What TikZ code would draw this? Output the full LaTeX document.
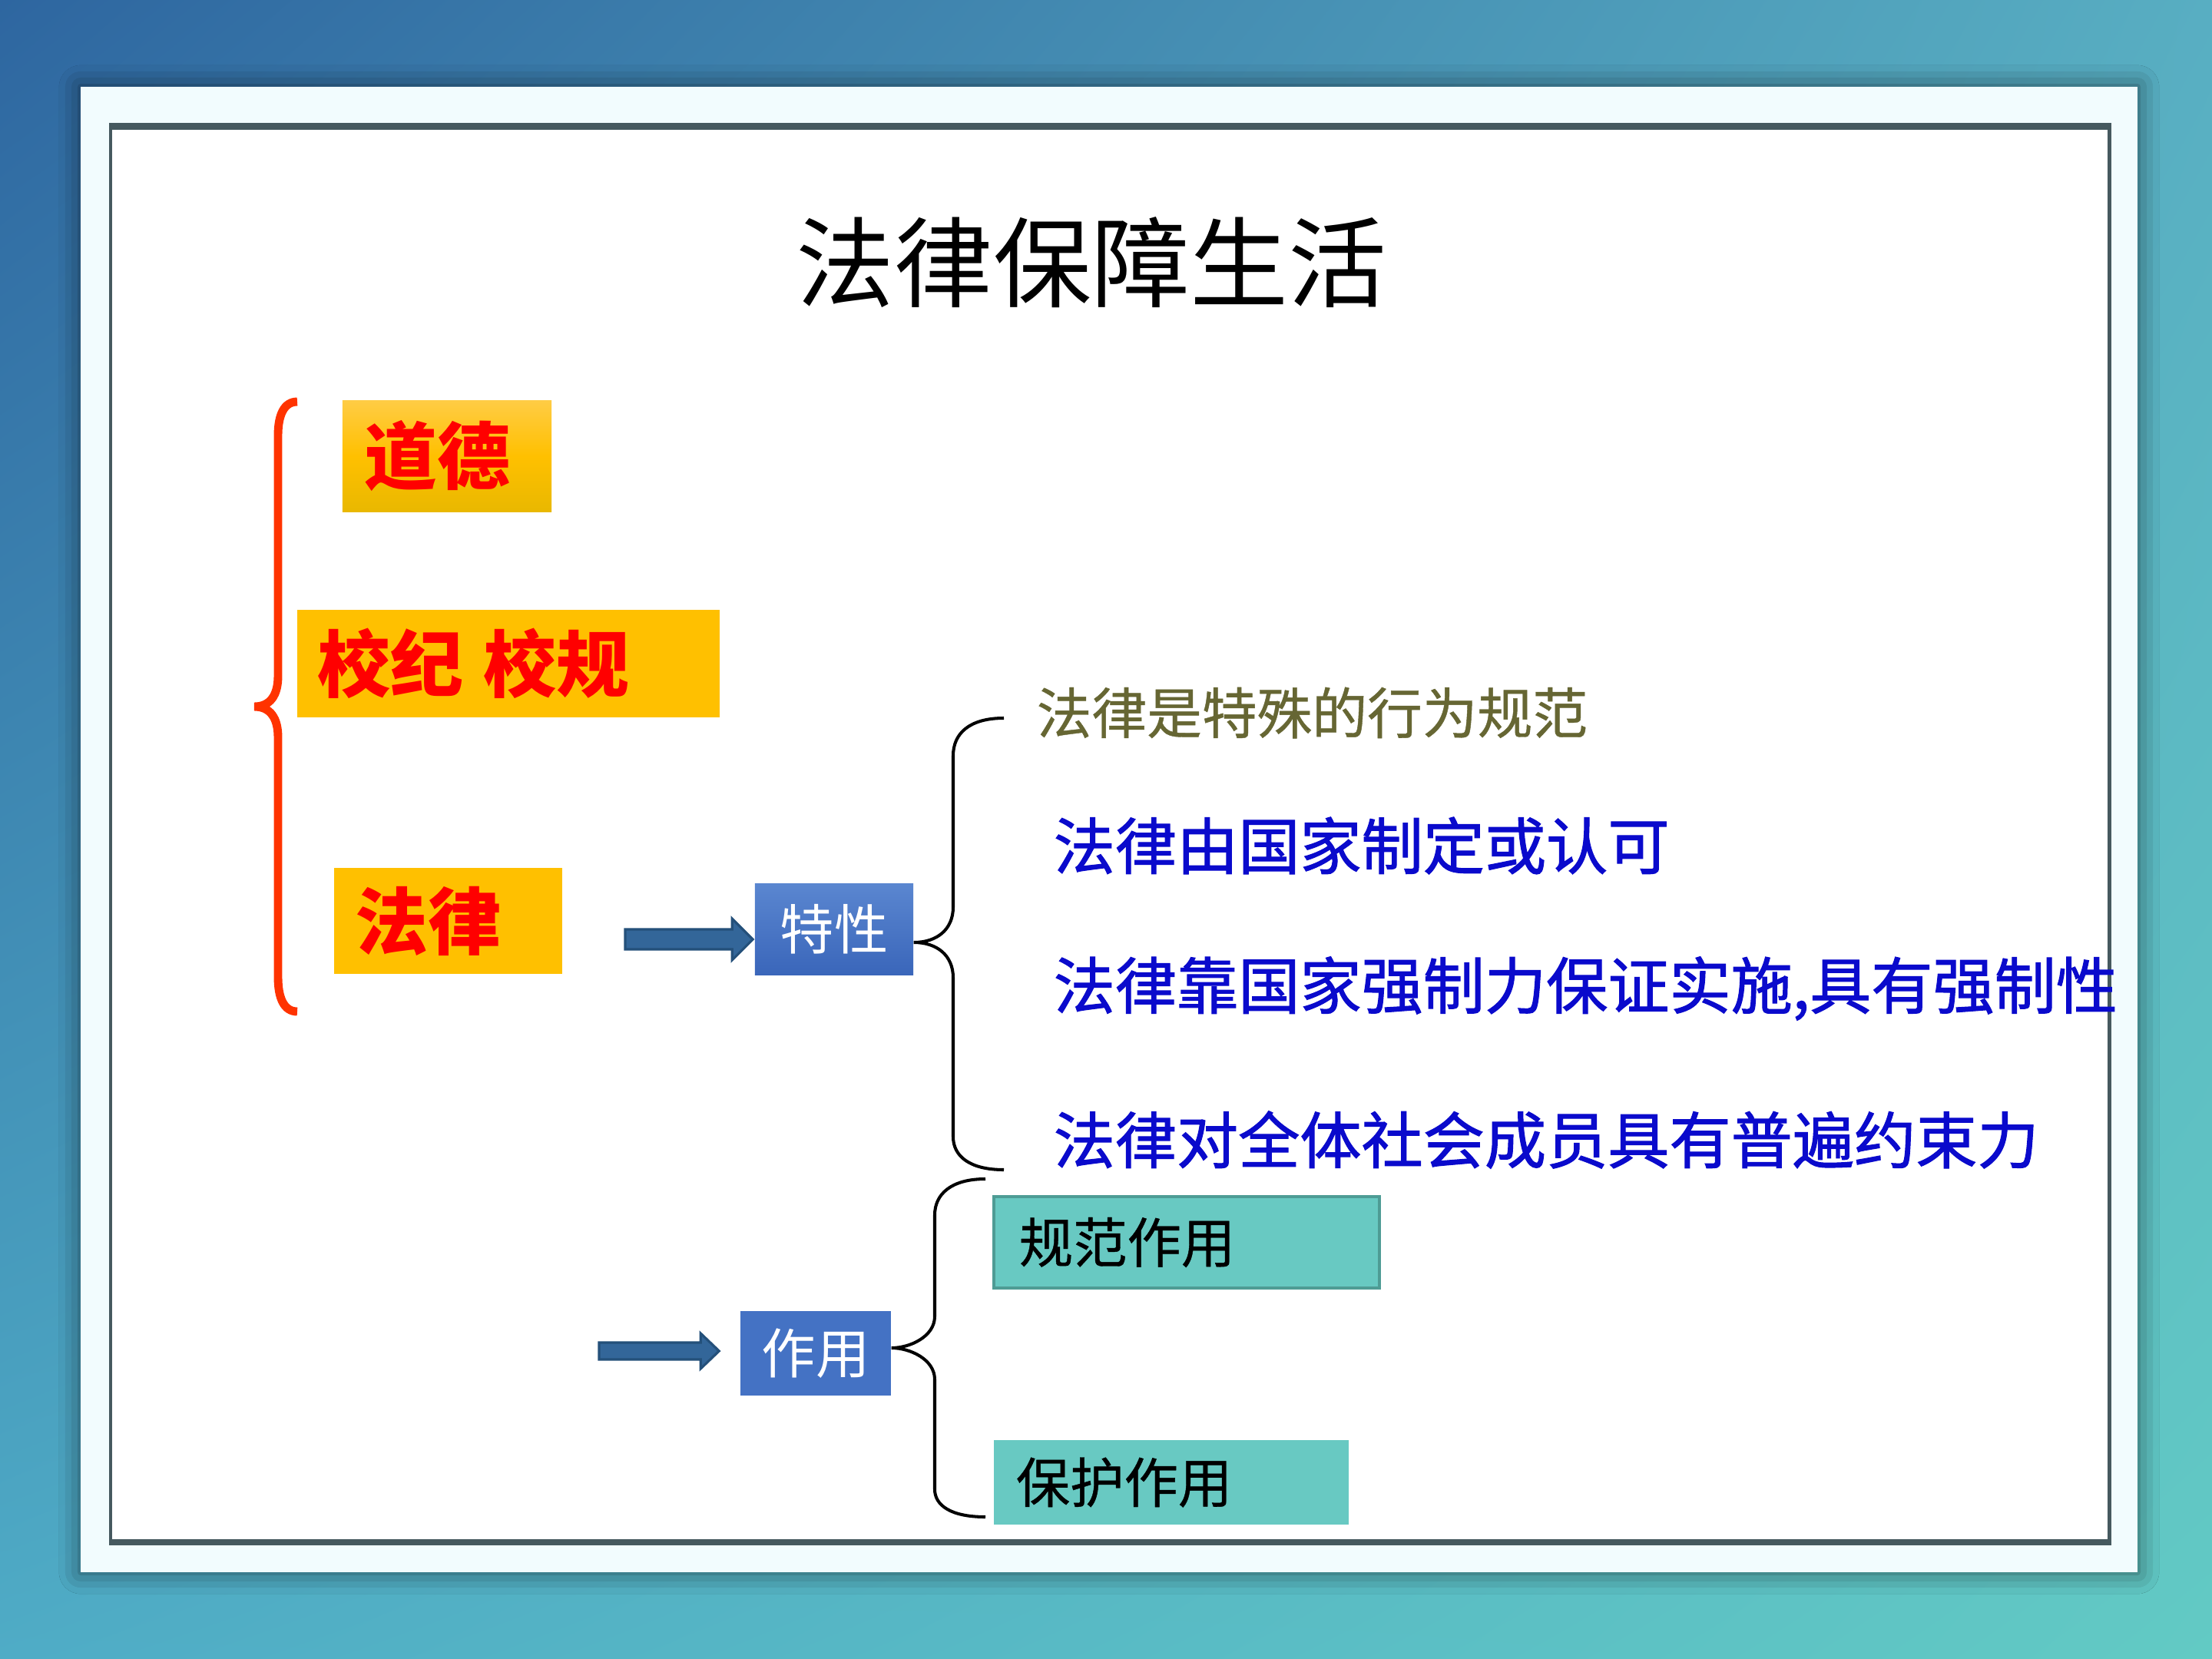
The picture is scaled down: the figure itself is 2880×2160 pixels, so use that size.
\documentclass[tikz,border=0pt]{standalone}
\usepackage{fontspec}
\setmainfont{Noto Sans CJK SC}
\newfontfamily\cjkheavy{Noto Sans CJK SC}[FakeBold=1.3]
\newfontfamily\cjkmid{Noto Sans CJK SC}[FakeBold=0.6]
\usetikzlibrary{calc,shadows.blur,shadings}
\definecolor{bgUL}{HTML}{2E66A0}
\definecolor{bgUR}{HTML}{58AEC2}
\definecolor{bgLL}{HTML}{4FACC6}
\definecolor{bgLR}{HTML}{62CAC4}
\definecolor{panelc}{HTML}{F2FCFE}
\definecolor{framec}{HTML}{46595F}
\definecolor{ygold}{HTML}{FFC000}
\definecolor{ytop}{HTML}{FFCC44}
\definecolor{ybot}{HTML}{E9B800}
\definecolor{redt}{HTML}{FF0000}
\definecolor{bracered}{HTML}{FF3300}
\definecolor{bluebox}{HTML}{4472C4}
\definecolor{blueboxtop}{HTML}{5A86D0}
\definecolor{blueboxbot}{HTML}{3A66BA}
\definecolor{arrowfill}{HTML}{336699}
\definecolor{arrowdraw}{HTML}{24507A}
\definecolor{tealbox}{HTML}{68C9C2}
\definecolor{tealdraw}{HTML}{4E9C95}
\definecolor{olivet}{HTML}{666633}
\definecolor{bluet}{HTML}{0A0ACC}
\tikzset{
  ybox/.style={fill=ygold, inner ysep=0pt, align=left, text=redt,
    font=\fontsize{27pt}{30pt}\selectfont\bfseries},
  wbox/.style={fill=bluebox, inner sep=0pt, text=white,
    font=\fontsize{20pt}{22pt}\selectfont},
  tbox/.style={fill=tealbox, inner ysep=0pt, align=left, text=black,
    font=\cjkmid\fontsize{20pt}{22pt}\selectfont},
  oltxt/.style={anchor=west, inner sep=0pt, text=olivet,
    font=\cjkmid\fontsize{20.4pt}{22pt}\selectfont},
  bltxt/.style={anchor=west, inner sep=0pt, text=bluet,
    font=\cjkheavy\fontsize{22.8pt}{24pt}\selectfont},
  blockarrow/.style={fill=arrowfill, draw=arrowdraw, line width=0.9pt, line join=miter},
  redbrace/.style={draw=bracered, line width=3.1pt},
  blkbrace/.style={draw=black, line width=1.15pt}
}
\begin{document}
\begin{tikzpicture}[x=0.01cm,y=-0.01cm]
\useasboundingbox (0,0) rectangle (2880,2160);
% background
\shade[upper left=bgUL, upper right=bgUR, lower left=bgLL, lower right=bgLR] (0,0) rectangle (2880,2160);
% panel
\fill[panelc, blur shadow={shadow blur radius=8pt, shadow xshift=0pt, shadow yshift=0pt, shadow opacity=55}] (105,113) rectangle (2783,2047);
\fill[white] (143,160) rectangle (2748,2012);
\fill[framec] (142,160) rectangle (2749,169);
\fill[framec] (142,2004) rectangle (2749,2012);
\fill[framec] (142,160) rectangle (146,2012);
\fill[framec] (2744,160) rectangle (2749,2012);
% title
\node[font=\fontsize{36.4pt}{40pt}\selectfont] (title) at (1421,342) {法律保障生活};
% yellow boxes
\node[ybox, top color=ytop, bottom color=ybot, middle color=ygold, minimum height=1.44cm, text width=2.14cm, inner xsep=0.29cm] (dd) at (582,594) {道德};
\node[ybox, minimum height=1.39cm, text width=4.96cm, inner xsep=0.27cm] (xj) at (662,864) {校纪\hspace{0.27em}校规};
\node[ybox, minimum height=1.38cm, text width=2.41cm, inner xsep=0.28cm] (fl) at (583.5,1199) {法律};
% red brace
\draw[redbrace] (387,523) .. controls (370,523) and (362,540) .. (362,567) -- (362,880)
  .. controls (362,905) and (352,920) .. (331,920)
  .. controls (352,920) and (362,935) .. (362,960) -- (362,1272)
  .. controls (362,1300) and (370,1317) .. (387,1317);
% blue boxes
\node[wbox, top color=blueboxtop, bottom color=blueboxbot, minimum width=2.06cm, minimum height=1.18cm] (tx) at (1086,1210) {特性};
\node[wbox, minimum width=1.96cm, minimum height=1.10cm] (zy) at (1062,1762) {作用};
% arrows
\coordinate (a1s) at (814,1223);
\coordinate (a1e) at ($(tx.west |- a1s)+(-2,0)$);
\draw[blockarrow] ($(a1s)+(0,-13)$) -- ($(a1e)+(-27,-13)$) -- ($(a1e)+(-27,-27)$) -- (a1e)
  -- ($(a1e)+(-27,27)$) -- ($(a1e)+(-27,13)$) -- ($(a1s)+(0,13)$) -- cycle;
\coordinate (a2s) at (780,1759);
\coordinate (a2e) at ($(zy.west |- a2s)+(-27,0)$);
\draw[blockarrow] ($(a2s)+(0,-11)$) -- ($(a2e)+(-24,-11)$) -- ($(a2e)+(-24,-23)$) -- (a2e)
  -- ($(a2e)+(-24,23)$) -- ($(a2e)+(-24,11)$) -- ($(a2s)+(0,11)$) -- cycle;
% black braces
\draw[blkbrace] (1307,935) .. controls (1262,935) and (1241,955) .. (1241,984) -- (1241,1181)
  .. controls (1241,1210) and (1220,1227) .. (tx.east |- 0,1227)
  .. controls (1220,1227) and (1241,1244) .. (1241,1273) -- (1241,1480)
  .. controls (1241,1505) and (1262,1523) .. (1307,1523);
\draw[blkbrace] (1283,1535) .. controls (1238,1535) and (1217,1555) .. (1217,1582) -- (1217,1714)
  .. controls (1217,1740) and (1185,1755) .. (zy.east |- 0,1755)
  .. controls (1185,1755) and (1217,1770) .. (1217,1796) -- (1217,1939)
  .. controls (1217,1960) and (1238,1975) .. (1283,1975);
% feature texts
\node[oltxt] (t1) at (1349,928) {法律是特殊的行为规范};
\node[bltxt] (t2) at (1371,1101) {法律由国家制定或认可};
\node[bltxt] (t3) at (1371,1287) {法律靠国家强制力保证实施,具有强制性};
\node[bltxt] (t4) at (1371,1484) {法律对全体社会成员具有普遍约束力};
% teal boxes
\node[tbox, draw=tealdraw, line width=1pt, minimum height=1.19cm, text width=4.36cm, inner xsep=0.33cm] (gf) at (1545,1617.5) {规范作用};
\node[tbox, minimum height=1.10cm, text width=4.04cm, inner xsep=0.29cm] (bh) at (1525,1930) {保护作用};
\end{tikzpicture}
\end{document}
